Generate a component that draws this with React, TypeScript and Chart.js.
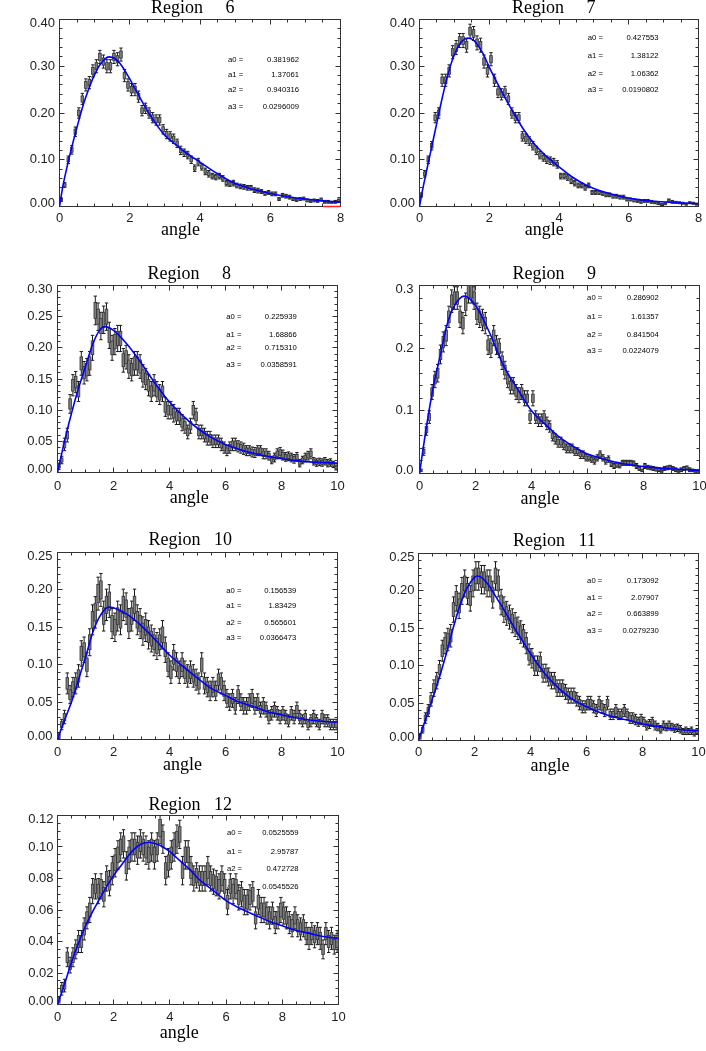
import React, { useEffect, useRef } from "react";
import { Chart, registerables } from "chart.js";

Chart.register(...registerables);

// ---------- shared categories ----------
const BIN_CENTERS = [
  0.05, 0.15, 0.25, 0.35, 0.45, 0.55, 0.65, 0.75, 0.85, 0.95,
  1.05, 1.15, 1.25, 1.35, 1.45, 1.55, 1.65, 1.75, 1.85, 1.95,
  2.05, 2.15, 2.25, 2.35, 2.45, 2.55, 2.65, 2.75, 2.85, 2.95,
  3.05, 3.15, 3.25, 3.35, 3.45, 3.55, 3.65, 3.75, 3.85, 3.95,
  4.05, 4.15, 4.25, 4.35, 4.45, 4.55, 4.65, 4.75, 4.85, 4.95,
  5.05, 5.15, 5.25, 5.35, 5.45, 5.55, 5.65, 5.75, 5.85, 5.95,
  6.05, 6.15, 6.25, 6.35, 6.45, 6.55, 6.65, 6.75, 6.85, 6.95,
  7.05, 7.15, 7.25, 7.35, 7.45, 7.55, 7.65, 7.75, 7.85, 7.95,
  8.05, 8.15, 8.25, 8.35, 8.45, 8.55, 8.65, 8.75, 8.85, 8.95,
  9.05, 9.15, 9.25, 9.35, 9.45, 9.55, 9.65, 9.75, 9.85, 9.95,
];
const PARAM_LABELS = ["a0 =", "a1 =", "a2 =", "a3 ="];
const X_TICK_STEP = 2;
const X_MINOR_N = 4;

// ---------- Region 6 ----------
const values6 = [
  0.014, 0.046, 0.100, 0.121, 0.160, 0.200, 0.230, 0.260, 0.265, 0.290,
  0.300, 0.320, 0.310, 0.300, 0.300, 0.320, 0.315, 0.325, 0.280, 0.260,
  0.250, 0.250, 0.235, 0.205, 0.210, 0.200, 0.190, 0.185, 0.185, 0.165,
  0.155, 0.150, 0.145, 0.135, 0.120, 0.115, 0.110, 0.100, 0.082, 0.095,
  0.085, 0.075, 0.070, 0.065, 0.063, 0.065, 0.060, 0.050, 0.048, 0.050,
  0.045, 0.043, 0.042, 0.040, 0.040, 0.035, 0.034, 0.032, 0.028, 0.030,
  0.027, 0.027, 0.016, 0.024, 0.022, 0.020, 0.016, 0.014, 0.016, 0.017,
  0.013, 0.012, 0.013, 0.012, 0.015, 0.010, 0.010, 0.009, 0.010, 0.013,
];
const errors6 = [
  0.003, 0.005, 0.008, 0.009, 0.010, 0.011, 0.012, 0.013, 0.013, 0.013,
  0.014, 0.014, 0.014, 0.014, 0.014, 0.014, 0.014, 0.014, 0.013, 0.013,
  0.013, 0.013, 0.012, 0.011, 0.011, 0.011, 0.011, 0.011, 0.011, 0.010,
  0.010, 0.010, 0.010, 0.009, 0.009, 0.008, 0.008, 0.008, 0.007, 0.008,
  0.007, 0.007, 0.007, 0.006, 0.006, 0.006, 0.006, 0.006, 0.005, 0.006,
  0.005, 0.005, 0.005, 0.005, 0.005, 0.005, 0.005, 0.004, 0.004, 0.004,
  0.004, 0.004, 0.003, 0.004, 0.004, 0.004, 0.003, 0.003, 0.003, 0.003,
  0.003, 0.003, 0.003, 0.003, 0.003, 0.003, 0.003, 0.002, 0.003, 0.003,
];
const fitX6 = [0, 0.1, 0.2, 0.3, 0.4, 0.5, 0.6, 0.7, 0.8, 0.9, 1.0, 1.1, 1.2, 1.3, 1.4, 1.5, 1.6, 1.7, 1.8, 1.9, 2.0, 2.2, 2.4, 2.6, 2.8, 3.0, 3.3, 3.6, 4.0, 4.5, 5.0, 5.5, 6.0, 6.5, 7.0, 7.5, 8.0];
const fitY6 = [0, 0.045, 0.08, 0.112, 0.142, 0.17, 0.198, 0.223, 0.245, 0.265, 0.282, 0.297, 0.308, 0.316, 0.32, 0.319, 0.315, 0.308, 0.298, 0.286, 0.273, 0.245, 0.218, 0.193, 0.171, 0.152, 0.133, 0.115, 0.095, 0.07, 0.049, 0.037, 0.028, 0.021, 0.016, 0.012, 0.009];
const params6 = ["0.381962", "1.37061", "0.940316", "0.0296009"];
const redX6 = [7.5, 8.0];
const redY6 = [0, 0];

// ---------- Region 7 ----------
const values7 = [
  0.025, 0.070, 0.100, 0.130, 0.190, 0.200, 0.270, 0.270, 0.290, 0.330,
  0.340, 0.355, 0.355, 0.345, 0.375, 0.370, 0.350, 0.345, 0.310, 0.290,
  0.315, 0.270, 0.245, 0.240, 0.245, 0.230, 0.200, 0.190, 0.190, 0.150,
  0.145, 0.140, 0.130, 0.120, 0.110, 0.105, 0.100, 0.098, 0.095, 0.090,
  0.065, 0.065, 0.062, 0.055, 0.050, 0.045, 0.045, 0.040, 0.045, 0.030,
  0.030, 0.030, 0.028, 0.025, 0.025, 0.022, 0.022, 0.020, 0.020, 0.015,
  0.015, 0.013, 0.012, 0.010, 0.012, 0.012, 0.010, 0.008, 0.006, 0.004,
  0.006, 0.013, 0.010, 0.009, 0.008, 0.007, 0.005, 0.008, 0.007, 0.005,
];
const errors7 = [
  0.004, 0.007, 0.008, 0.009, 0.011, 0.011, 0.013, 0.013, 0.013, 0.014,
  0.015, 0.015, 0.015, 0.015, 0.015, 0.015, 0.015, 0.015, 0.014, 0.013,
  0.014, 0.013, 0.012, 0.012, 0.012, 0.012, 0.011, 0.011, 0.011, 0.010,
  0.010, 0.009, 0.009, 0.009, 0.008, 0.008, 0.008, 0.008, 0.008, 0.008,
  0.006, 0.006, 0.006, 0.006, 0.006, 0.005, 0.005, 0.005, 0.005, 0.004,
  0.004, 0.004, 0.004, 0.004, 0.004, 0.004, 0.004, 0.004, 0.004, 0.003,
  0.003, 0.003, 0.003, 0.003, 0.003, 0.003, 0.003, 0.002, 0.002, 0.002,
  0.002, 0.003, 0.003, 0.002, 0.002, 0.002, 0.002, 0.002, 0.002, 0.002,
];
const fitX7 = [0, 0.1, 0.2, 0.3, 0.4, 0.5, 0.6, 0.7, 0.8, 0.9, 1.0, 1.1, 1.2, 1.3, 1.4, 1.5, 1.6, 1.7, 1.8, 1.9, 2.0, 2.2, 2.4, 2.7, 3.0, 3.3, 3.6, 4.0, 4.4, 4.8, 5.2, 5.8, 6.5, 7.2, 8.0];
const fitY7 = [0, 0.04, 0.075, 0.11, 0.145, 0.18, 0.215, 0.248, 0.278, 0.304, 0.325, 0.341, 0.352, 0.358, 0.36, 0.358, 0.352, 0.342, 0.33, 0.315, 0.298, 0.268, 0.24, 0.2, 0.163, 0.133, 0.11, 0.085, 0.062, 0.045, 0.033, 0.021, 0.013, 0.009, 0.006];
const params7 = ["0.427553", "1.38122", "1.06362", "0.0190802"];

// ---------- Region 8 ----------
const values8 = [
  0.010, 0.020, 0.045, 0.060, 0.110, 0.140, 0.145, 0.130, 0.175, 0.160,
  0.165, 0.175, 0.200, 0.260, 0.250, 0.235, 0.245, 0.250, 0.220, 0.200,
  0.210, 0.215, 0.215, 0.180, 0.185, 0.170, 0.165, 0.175, 0.175, 0.170,
  0.155, 0.150, 0.140, 0.130, 0.140, 0.130, 0.125, 0.130, 0.105, 0.100,
  0.100, 0.095, 0.090, 0.090, 0.080, 0.075, 0.065, 0.075, 0.100, 0.090,
  0.065, 0.065, 0.060, 0.055, 0.055, 0.050, 0.050, 0.050, 0.045, 0.040,
  0.035, 0.040, 0.045, 0.045, 0.042, 0.040, 0.038, 0.035, 0.035, 0.033,
  0.032, 0.035, 0.035, 0.030, 0.030, 0.027, 0.020, 0.024, 0.030, 0.032,
  0.028, 0.025, 0.026, 0.024, 0.022, 0.025, 0.015, 0.020, 0.024, 0.027,
  0.030, 0.018, 0.016, 0.017, 0.016, 0.018, 0.015, 0.016, 0.013, 0.008,
];
const errors8 = [
  0.005, 0.006, 0.010, 0.011, 0.015, 0.017, 0.017, 0.016, 0.019, 0.018,
  0.018, 0.019, 0.020, 0.023, 0.022, 0.022, 0.022, 0.022, 0.021, 0.020,
  0.021, 0.021, 0.021, 0.019, 0.019, 0.019, 0.018, 0.019, 0.019, 0.019,
  0.018, 0.017, 0.017, 0.016, 0.017, 0.016, 0.016, 0.016, 0.015, 0.014,
  0.014, 0.014, 0.013, 0.013, 0.013, 0.012, 0.011, 0.012, 0.014, 0.013,
  0.011, 0.011, 0.011, 0.011, 0.011, 0.010, 0.010, 0.010, 0.010, 0.009,
  0.008, 0.009, 0.010, 0.010, 0.009, 0.009, 0.009, 0.008, 0.008, 0.008,
  0.008, 0.008, 0.008, 0.008, 0.008, 0.007, 0.006, 0.007, 0.008, 0.008,
  0.008, 0.007, 0.007, 0.007, 0.007, 0.007, 0.006, 0.006, 0.007, 0.007,
  0.008, 0.006, 0.006, 0.006, 0.006, 0.006, 0.006, 0.006, 0.005, 0.004,
];
const fitX8 = [0, 0.25, 0.5, 0.75, 1.0, 1.25, 1.5, 1.7, 2.0, 2.5, 3.0, 3.5, 4.0, 4.5, 5.0, 5.5, 6.0, 6.5, 7.0, 7.5, 8.0, 8.5, 9.0, 9.5, 10];
const fitY8 = [0, 0.05, 0.095, 0.135, 0.17, 0.205, 0.228, 0.234, 0.228, 0.205, 0.175, 0.142, 0.113, 0.09, 0.071, 0.056, 0.045, 0.037, 0.031, 0.026, 0.022, 0.019, 0.017, 0.016, 0.015];
const params8 = ["0.225939", "1.68866", "0.715310", "0.0358591"];

// ---------- Region 9 ----------
const values9 = [
  0.005, 0.035, 0.070, 0.090, 0.130, 0.150, 0.160, 0.190, 0.210, 0.220,
  0.250, 0.275, 0.280, 0.280, 0.250, 0.240, 0.270, 0.290, 0.290, 0.280,
  0.255, 0.250, 0.245, 0.240, 0.205, 0.200, 0.220, 0.205, 0.200, 0.180,
  0.165, 0.150, 0.140, 0.140, 0.130, 0.125, 0.130, 0.120, 0.120, 0.090,
  0.120, 0.090, 0.085, 0.085, 0.090, 0.080, 0.075, 0.060, 0.055, 0.050,
  0.050, 0.045, 0.040, 0.040, 0.040, 0.035, 0.035, 0.030, 0.030, 0.025,
  0.025, 0.023, 0.020, 0.025, 0.030, 0.025, 0.020, 0.023, 0.015, 0.012,
  0.014, 0.013, 0.017, 0.017, 0.017, 0.017, 0.016, 0.012, 0.008, 0.005,
  0.012, 0.010, 0.009, 0.008, 0.007, 0.006, 0.004, 0.008, 0.009, 0.010,
  0.008, 0.006, 0.004, 0.006, 0.008, 0.009, 0.006, 0.005, 0.004, 0.004,
];
const errors9 = [
  0.002, 0.006, 0.009, 0.010, 0.012, 0.013, 0.014, 0.015, 0.016, 0.016,
  0.017, 0.018, 0.018, 0.018, 0.017, 0.017, 0.018, 0.018, 0.018, 0.018,
  0.017, 0.017, 0.017, 0.017, 0.015, 0.015, 0.016, 0.015, 0.015, 0.014,
  0.014, 0.013, 0.013, 0.013, 0.012, 0.012, 0.012, 0.012, 0.012, 0.010,
  0.012, 0.010, 0.010, 0.010, 0.010, 0.010, 0.009, 0.008, 0.008, 0.008,
  0.008, 0.007, 0.007, 0.007, 0.007, 0.006, 0.006, 0.006, 0.006, 0.005,
  0.005, 0.005, 0.005, 0.005, 0.006, 0.005, 0.005, 0.005, 0.004, 0.004,
  0.004, 0.004, 0.004, 0.004, 0.004, 0.004, 0.004, 0.004, 0.003, 0.002,
  0.004, 0.003, 0.003, 0.003, 0.003, 0.003, 0.002, 0.003, 0.003, 0.003,
  0.003, 0.003, 0.002, 0.003, 0.003, 0.003, 0.003, 0.002, 0.002, 0.002,
];
const fitX9 = [0, 0.25, 0.5, 0.75, 1.0, 1.25, 1.6, 2.0, 2.5, 3.0, 3.5, 4.0, 4.5, 5.0, 5.5, 6.0, 6.5, 7.0, 7.5, 8.0, 9.0, 10];
const fitY9 = [0, 0.075, 0.14, 0.19, 0.24, 0.268, 0.283, 0.268, 0.225, 0.172, 0.135, 0.1, 0.078, 0.058, 0.043, 0.031, 0.024, 0.018, 0.014, 0.011, 0.0075, 0.005];
const params9 = ["0.286902", "1.61357", "0.841504", "0.0224079"];

// ---------- Region 10 ----------
const values10 = [
  0.005, 0.020, 0.030, 0.075, 0.060, 0.070, 0.075, 0.085, 0.115, 0.120,
  0.100, 0.130, 0.160, 0.170, 0.195, 0.200, 0.165, 0.180, 0.185, 0.155,
  0.150, 0.165, 0.160, 0.180, 0.175, 0.155, 0.165, 0.180, 0.160, 0.155,
  0.145, 0.150, 0.140, 0.135, 0.130, 0.125, 0.130, 0.140, 0.120, 0.100,
  0.090, 0.110, 0.100, 0.090, 0.100, 0.090, 0.085, 0.090, 0.085, 0.080,
  0.075, 0.100, 0.075, 0.070, 0.065, 0.070, 0.065, 0.080, 0.075, 0.065,
  0.055, 0.050, 0.055, 0.045, 0.060, 0.050, 0.045, 0.045, 0.050, 0.055,
  0.045, 0.050, 0.040, 0.045, 0.040, 0.030, 0.035, 0.040, 0.035, 0.030,
  0.035, 0.030, 0.025, 0.035, 0.030, 0.040, 0.030, 0.025, 0.030, 0.020,
  0.025, 0.030, 0.025, 0.020, 0.030, 0.025, 0.025, 0.020, 0.020, 0.020,
];
const errors10 = [
  0.004, 0.007, 0.009, 0.014, 0.012, 0.013, 0.014, 0.015, 0.017, 0.017,
  0.016, 0.018, 0.020, 0.021, 0.022, 0.022, 0.020, 0.021, 0.022, 0.020,
  0.019, 0.020, 0.020, 0.021, 0.021, 0.020, 0.020, 0.021, 0.020, 0.020,
  0.019, 0.019, 0.019, 0.018, 0.018, 0.018, 0.018, 0.019, 0.017, 0.016,
  0.015, 0.017, 0.016, 0.015, 0.016, 0.015, 0.015, 0.015, 0.015, 0.014,
  0.014, 0.016, 0.014, 0.013, 0.013, 0.013, 0.013, 0.014, 0.014, 0.013,
  0.012, 0.011, 0.012, 0.011, 0.012, 0.011, 0.011, 0.011, 0.011, 0.012,
  0.011, 0.011, 0.010, 0.011, 0.010, 0.009, 0.009, 0.010, 0.009, 0.009,
  0.009, 0.009, 0.008, 0.009, 0.009, 0.010, 0.009, 0.008, 0.009, 0.007,
  0.008, 0.009, 0.008, 0.007, 0.009, 0.008, 0.008, 0.007, 0.007, 0.007,
];
const fitX10 = [0, 0.25, 0.5, 0.75, 1.0, 1.25, 1.5, 1.83, 2.0, 2.5, 3.0, 3.5, 4.0, 4.5, 5.0, 5.5, 6.0, 6.5, 7.0, 7.5, 8.0, 8.5, 9.0, 9.5, 10];
const fitY10 = [0, 0.026, 0.05, 0.08, 0.11, 0.142, 0.164, 0.177, 0.176, 0.167, 0.152, 0.133, 0.113, 0.097, 0.082, 0.068, 0.059, 0.05, 0.044, 0.037, 0.033, 0.029, 0.026, 0.024, 0.023];
const params10 = ["0.156539", "1.83429", "0.565601", "0.0366473"];

// ---------- Region 11 ----------
const values11 = [
  0.005, 0.015, 0.030, 0.040, 0.055, 0.070, 0.080, 0.095, 0.120, 0.130,
  0.135, 0.140, 0.175, 0.190, 0.180, 0.200, 0.210, 0.200, 0.190, 0.210,
  0.220, 0.220, 0.215, 0.215, 0.210, 0.210, 0.195, 0.220, 0.210, 0.185,
  0.175, 0.170, 0.165, 0.160, 0.155, 0.150, 0.145, 0.140, 0.130, 0.115,
  0.110, 0.100, 0.100, 0.105, 0.090, 0.090, 0.085, 0.080, 0.080, 0.070,
  0.070, 0.070, 0.065, 0.060, 0.060, 0.060, 0.055, 0.050, 0.045, 0.045,
  0.050, 0.050, 0.045, 0.040, 0.050, 0.045, 0.040, 0.050, 0.035, 0.035,
  0.040, 0.035, 0.035, 0.040, 0.035, 0.030, 0.030, 0.028, 0.025, 0.028,
  0.025, 0.020, 0.022, 0.025, 0.020, 0.018, 0.015, 0.020, 0.018, 0.020,
  0.018, 0.016, 0.017, 0.015, 0.012, 0.013, 0.012, 0.013, 0.010, 0.012,
];
const errors11 = [
  0.003, 0.005, 0.007, 0.008, 0.009, 0.011, 0.011, 0.012, 0.014, 0.014,
  0.015, 0.015, 0.017, 0.017, 0.017, 0.018, 0.018, 0.018, 0.017, 0.018,
  0.019, 0.019, 0.019, 0.019, 0.018, 0.018, 0.018, 0.019, 0.018, 0.017,
  0.017, 0.016, 0.016, 0.016, 0.016, 0.015, 0.015, 0.015, 0.014, 0.014,
  0.013, 0.013, 0.013, 0.013, 0.012, 0.012, 0.012, 0.011, 0.011, 0.011,
  0.011, 0.011, 0.010, 0.010, 0.010, 0.010, 0.009, 0.009, 0.008, 0.008,
  0.009, 0.009, 0.008, 0.008, 0.009, 0.008, 0.008, 0.009, 0.007, 0.007,
  0.008, 0.007, 0.007, 0.008, 0.007, 0.007, 0.007, 0.007, 0.006, 0.007,
  0.006, 0.006, 0.006, 0.006, 0.006, 0.005, 0.005, 0.006, 0.005, 0.006,
  0.005, 0.005, 0.005, 0.005, 0.004, 0.005, 0.004, 0.005, 0.004, 0.004,
];
const fitX11 = [0, 0.25, 0.5, 0.75, 1.0, 1.25, 1.5, 1.75, 2.0, 2.1, 2.25, 2.5, 2.75, 3.0, 3.25, 3.5, 3.75, 4.0, 4.5, 5.0, 5.5, 6.0, 6.5, 7.0, 7.5, 8.0, 8.5, 9.0, 9.5, 10];
const fitY11 = [0, 0.028, 0.056, 0.085, 0.117, 0.152, 0.183, 0.205, 0.218, 0.22, 0.218, 0.208, 0.193, 0.178, 0.162, 0.146, 0.131, 0.116, 0.09, 0.07, 0.055, 0.045, 0.037, 0.031, 0.027, 0.022, 0.019, 0.016, 0.014, 0.013];
const params11 = ["0.173092", "2.07907", "0.663899", "0.0279230"];

// ---------- Region 12 ----------
const values12 = [
  0.003, 0.010, 0.012, 0.030, 0.025, 0.030, 0.035, 0.040, 0.040, 0.048,
  0.055, 0.060, 0.072, 0.075, 0.072, 0.075, 0.070, 0.080, 0.077, 0.085,
  0.090, 0.095, 0.100, 0.102, 0.088, 0.095, 0.100, 0.100, 0.098, 0.102,
  0.100, 0.098, 0.095, 0.100, 0.095, 0.100, 0.112, 0.105, 0.085, 0.090,
  0.095, 0.100, 0.105, 0.108, 0.085, 0.095, 0.095, 0.085, 0.080, 0.082,
  0.080, 0.080, 0.080, 0.085, 0.080, 0.078, 0.077, 0.075, 0.080, 0.075,
  0.065, 0.075, 0.072, 0.075, 0.068, 0.070, 0.065, 0.065, 0.068, 0.070,
  0.055, 0.065, 0.060, 0.060, 0.058, 0.055, 0.058, 0.052, 0.055, 0.060,
  0.058, 0.055, 0.052, 0.050, 0.055, 0.050, 0.048, 0.050, 0.045, 0.042,
  0.045, 0.043, 0.045, 0.042, 0.035, 0.045, 0.040, 0.042, 0.038, 0.040,
];
const errors12 = [
  0.002, 0.004, 0.004, 0.006, 0.005, 0.006, 0.006, 0.007, 0.007, 0.007,
  0.007, 0.008, 0.008, 0.008, 0.008, 0.008, 0.008, 0.008, 0.008, 0.009,
  0.009, 0.009, 0.009, 0.009, 0.009, 0.009, 0.009, 0.009, 0.009, 0.009,
  0.009, 0.009, 0.009, 0.009, 0.009, 0.009, 0.010, 0.009, 0.009, 0.009,
  0.009, 0.009, 0.009, 0.009, 0.009, 0.009, 0.009, 0.009, 0.008, 0.008,
  0.008, 0.008, 0.008, 0.009, 0.008, 0.008, 0.008, 0.008, 0.008, 0.008,
  0.008, 0.008, 0.008, 0.008, 0.008, 0.008, 0.008, 0.008, 0.008, 0.008,
  0.007, 0.008, 0.008, 0.008, 0.007, 0.007, 0.007, 0.007, 0.007, 0.008,
  0.007, 0.007, 0.007, 0.007, 0.007, 0.007, 0.007, 0.007, 0.007, 0.007,
  0.007, 0.007, 0.007, 0.007, 0.006, 0.007, 0.007, 0.007, 0.006, 0.007,
];
const fitX12 = [0, 0.25, 0.5, 0.75, 1.0, 1.25, 1.5, 1.75, 2.0, 2.25, 2.5, 2.75, 3.0, 3.25, 3.5, 3.75, 4.0, 4.25, 4.5, 4.75, 5.0, 5.5, 6.0, 6.5, 7.0, 7.5, 8.0, 8.5, 9.0, 9.5, 10];
const fitY12 = [0, 0.013, 0.027, 0.039, 0.05, 0.059, 0.067, 0.075, 0.082, 0.088, 0.094, 0.099, 0.102, 0.103, 0.102, 0.1, 0.097, 0.093, 0.089, 0.085, 0.08, 0.073, 0.066, 0.061, 0.057, 0.053, 0.05, 0.047, 0.045, 0.043, 0.042];
const params12 = ["0.0525559", "2.95787", "0.472728", "0.0545526"];

// ---------- styles ----------
const SANS = '"Liberation Sans", Arial, Helvetica, sans-serif';
const SERIF = '"Liberation Serif", "Times New Roman", Times, serif';
const AXIS_COLOR = "#333333";
const LABEL_COLOR = "#222222";
const FIT_COLOR = "#0000ff";
const MAJOR_LEN = 5;
const MINOR_LEN = 3;
const BOX_FRAC = 0.55;

type Panel = {
  title: string;
  values: number[];
  errors: number[];
  fitX: number[];
  fitY: number[];
  params: string[];
  redX?: number[];
  redY?: number[];
  xMax: number;
  yMax: number;
  yStep: number;
  yMinorN: number;
  yDec: number;
  box: { left: number; top: number; w: number; h: number };
  area: { l: number; t: number; r: number; b: number };
  titleDx: number;
  titleDy: number;
  angleDx: number;
  angleDy: number;
  xLabDy: number;
  yLabGap: number;
  parLabX: number;
  parValX: number;
  parRows: number[];
};

const PANELS: Panel[] = [
  {
    title: "Region     6", values: values6, errors: errors6, fitX: fitX6, fitY: fitY6, params: params6,
    redX: redX6, redY: redY6, xMax: 8, yMax: 0.4, yStep: 0.1, yMinorN: 5, yDec: 2,
    box: { left: 0, top: 0, w: 353, h: 255 }, area: { l: 59.5, t: 19.5, r: 340.5, b: 206.5 },
    titleDx: -49, titleDy: -7, angleDx: -19.5, angleDy: 28, xLabDy: 11.8, yLabGap: 4.5,
    parLabX: 168.5, parValX: 239.5, parRows: [40.8, 55.5, 70.5, 87.2],
  },
  {
    title: "Region     7", values: values7, errors: errors7, fitX: fitX7, fitY: fitY7, params: params7,
    xMax: 8, yMax: 0.4, yStep: 0.1, yMinorN: 5, yDec: 2,
    box: { left: 353, top: 0, w: 353, h: 255 }, area: { l: 66.5, t: 19.5, r: 345.5, b: 206.5 },
    titleDx: -47, titleDy: -7, angleDx: -14.8, angleDy: 28, xLabDy: 11.8, yLabGap: 4.5,
    parLabX: 168.3, parValX: 239, parRows: [18.2, 36, 54.5, 70.5],
  },
  {
    title: "Region     8", values: values8, errors: errors8, fitX: fitX8, fitY: fitY8, params: params8,
    xMax: 10, yMax: 0.3, yStep: 0.05, yMinorN: 5, yDec: 2,
    box: { left: 0, top: 255, w: 353, h: 262 }, area: { l: 57.5, t: 30.5, r: 337.5, b: 217.5 },
    titleDx: -50, titleDy: -7, angleDx: -8.2, angleDy: 30, xLabDy: 13.5, yLabGap: 5,
    parLabX: 168.7, parValX: 239.4, parRows: [31, 49, 62.3, 79],
  },
  {
    title: "Region     9", values: values9, errors: errors9, fitX: fitX9, fitY: fitY9, params: params9,
    xMax: 10, yMax: 0.3, yStep: 0.1, yMinorN: 5, yDec: 1,
    box: { left: 353, top: 255, w: 353, h: 262 }, area: { l: 66.5, t: 30.5, r: 346.5, b: 218.5 },
    titleDx: -47, titleDy: -7, angleDx: -19.5, angleDy: 30.5, xLabDy: 13, yLabGap: 6,
    parLabX: 167.6, parValX: 239.3, parRows: [12.3, 31, 49, 65],
  },
  {
    title: "Region   10", values: values10, errors: errors10, fitX: fitX10, fitY: fitY10, params: params10,
    xMax: 10, yMax: 0.25, yStep: 0.05, yMinorN: 5, yDec: 2,
    box: { left: 0, top: 517, w: 353, h: 268 }, area: { l: 57.5, t: 35.5, r: 337.5, b: 222.5 },
    titleDx: -49, titleDy: -7.5, angleDx: -15, angleDy: 30.5, xLabDy: 13, yLabGap: 5,
    parLabX: 168.7, parValX: 238.7, parRows: [38.3, 53.3, 70.6, 85.6],
  },
  {
    title: "Region   11", values: values11, errors: errors11, fitX: fitX11, fitY: fitY11, params: params11,
    xMax: 10, yMax: 0.25, yStep: 0.05, yMinorN: 5, yDec: 2,
    box: { left: 353, top: 517, w: 353, h: 268 }, area: { l: 65.5, t: 36.5, r: 345.5, b: 223.5 },
    titleDx: -45.5, titleDy: -7.5, angleDx: -8.5, angleDy: 30.5, xLabDy: 11.8, yLabGap: 4,
    parLabX: 168.6, parValX: 240.3, parRows: [27, 44, 60, 77.4],
  },
  {
    title: "Region   12", values: values12, errors: errors12, fitX: fitX12, fitY: fitY12, params: params12,
    xMax: 10, yMax: 0.12, yStep: 0.02, yMinorN: 4, yDec: 2,
    box: { left: 0, top: 785, w: 353, h: 266 }, area: { l: 57.5, t: 30.5, r: 338.5, b: 219.5 },
    titleDx: -49.5, titleDy: -6, angleDx: -18.7, angleDy: 33, xLabDy: 12.7, yLabGap: 4,
    parLabX: 169.4, parValX: 241, parRows: [17.6, 36, 53.6, 71],
  },
];

function minorValues(major: number[], n: number): number[] {
  const out: number[] = [];
  for (let i = 0; i < major.length - 1; i++) {
    for (let k = 1; k < n; k++) out.push(major[i] + ((major[i + 1] - major[i]) * k) / n);
  }
  return out;
}

function crisp(v: number) {
  return Math.floor(v) + 0.5;
}

function makeDecor(p: Panel) {
  return {
    id: "panelDecor",
    beforeDatasetsDraw(chart: any) {
      const ctx: CanvasRenderingContext2D = chart.ctx;
      const a = chart.chartArea;
      const xs = chart.scales.x;
      const ys = chart.scales.y;
      ctx.save();

      // frame with inward ticks on all four sides
      ctx.strokeStyle = AXIS_COLOR;
      ctx.lineWidth = 1;
      ctx.strokeRect(a.left, a.top, a.right - a.left, a.bottom - a.top);
      ctx.beginPath();
      const xMajor = xs.ticks.map((t: any) => t.value);
      const yMajor = ys.ticks.map((t: any) => t.value);
      const xMinor = minorValues(xMajor, X_MINOR_N);
      const yMinor = minorValues(yMajor, p.yMinorN);
      const xT = (vals: number[], len: number) => {
        vals.forEach((v) => {
          const px = crisp(xs.getPixelForValue(v));
          ctx.moveTo(px, a.bottom);
          ctx.lineTo(px, a.bottom - len);
          ctx.moveTo(px, a.top);
          ctx.lineTo(px, a.top + len);
        });
      };
      const yT = (vals: number[], len: number) => {
        vals.forEach((v) => {
          const py = crisp(ys.getPixelForValue(v));
          ctx.moveTo(a.left, py);
          ctx.lineTo(a.left + len, py);
          ctx.moveTo(a.right, py);
          ctx.lineTo(a.right - len, py);
        });
      };
      xT(xMajor, MAJOR_LEN);
      xT(xMinor, MINOR_LEN);
      yT(yMajor, MAJOR_LEN);
      yT(yMinor, MINOR_LEN);
      ctx.stroke();

      // fit parameters text
      ctx.fillStyle = "#000";
      ctx.font = `7.7px ${SANS}`;
      ctx.textBaseline = "middle";
      for (let i = 0; i < 4; i++) {
        const y = a.top + p.parRows[i];
        ctx.textAlign = "left";
        ctx.fillText(PARAM_LABELS[i], a.left + p.parLabX, y);
        ctx.textAlign = "right";
        ctx.fillText(p.params[i], a.left + p.parValX, y);
      }

      // histogram bins with error bars
      ctx.beginPath();
      ctx.rect(a.left, a.top, a.right - a.left, a.bottom - a.top);
      ctx.clip();
      for (let i = 0; i < p.values.length; i++) {
        const cx = xs.getPixelForValue(BIN_CENTERS[i]);
        const v = p.values[i];
        const e = p.errors[i];
        const yTop = ys.getPixelForValue(v + e);
        const yBot = ys.getPixelForValue(v - e);
        ctx.strokeStyle = "#1a1a1a";
        ctx.lineWidth = 1;
        ctx.beginPath();
        ctx.moveTo(cx, yTop);
        ctx.lineTo(cx, yBot);
        ctx.moveTo(cx - 1.7, yTop);
        ctx.lineTo(cx + 1.7, yTop);
        ctx.moveTo(cx - 1.7, yBot);
        ctx.lineTo(cx + 1.7, yBot);
        ctx.stroke();
        const bTop = ys.getPixelForValue(v + BOX_FRAC * e);
        const bBot = ys.getPixelForValue(v - BOX_FRAC * e);
        ctx.fillStyle = "#7e7e7e";
        ctx.fillRect(cx - 1.3, bTop, 2.6, bBot - bTop);
        ctx.strokeStyle = "#333333";
        ctx.lineWidth = 0.8;
        ctx.strokeRect(cx - 1.3, bTop, 2.6, bBot - bTop);
      }
      ctx.restore();
    },
    afterDraw(chart: any) {
      const ctx: CanvasRenderingContext2D = chart.ctx;
      const a = chart.chartArea;
      const xs = chart.scales.x;
      const ys = chart.scales.y;
      ctx.save();
      ctx.fillStyle = LABEL_COLOR;
      ctx.font = `13px ${SANS}`;
      // y tick labels
      ctx.textAlign = "right";
      ctx.textBaseline = "middle";
      const n = ys.ticks.length;
      ys.ticks.forEach((t: any, i: number) => {
        let y = ys.getPixelForValue(t.value);
        if (i === 0) y -= 3.5;
        if (i === n - 1) y += 4;
        const label = Number(t.value).toFixed(p.yDec);
        ctx.fillText(label, a.left - p.yLabGap, y);
      });
      // x tick labels
      ctx.textAlign = "center";
      xs.ticks.forEach((t: any) => {
        const x = xs.getPixelForValue(t.value);
        ctx.fillText(String(Math.round(t.value)), x, a.bottom + p.xLabDy);
      });
      // titles
      const cx = (a.left + a.right) / 2;
      ctx.fillStyle = "#000";
      ctx.font = `18px ${SERIF}`;
      ctx.textBaseline = "alphabetic";
      ctx.textAlign = "left";
      ctx.fillText(p.title, cx + p.titleDx, a.top + p.titleDy);
      ctx.textAlign = "center";
      ctx.fillText("angle", cx + p.angleDx, a.bottom + p.angleDy);
      ctx.restore();
    },
  };
}

function PanelChart({ p }: { p: Panel }) {
  const ref = useRef<HTMLCanvasElement | null>(null);
  useEffect(() => {
    if (!ref.current) return;
    const datasets: any[] = [
      {
        label: "histogram",
        data: p.values.map((v, i) => ({ x: BIN_CENTERS[i], y: v })),
        showLine: false,
        pointRadius: 0,
        pointHoverRadius: 0,
        borderWidth: 0,
      },
      {
        label: "fit",
        data: p.fitX.map((x, i) => ({ x, y: p.fitY[i] })),
        borderColor: FIT_COLOR,
        borderWidth: 1.6,
        pointRadius: 0,
        fill: false,
        cubicInterpolationMode: "monotone",
      },
    ];
    if (p.redX && p.redY) {
      datasets.push({
        label: "marker",
        data: p.redX.map((x, i) => ({ x, y: p.redY![i] })),
        borderColor: "#ff2020",
        borderWidth: 1.5,
        pointRadius: 0,
        fill: false,
        clip: false,
      });
    }
    const chart = new Chart(ref.current, {
      type: "line",
      data: { datasets },
      options: {
        responsive: false,
        maintainAspectRatio: false,
        animation: false,
        devicePixelRatio: 1,
        events: [],
        layout: {
          padding: { left: 0, top: p.area.t, right: p.box.w - p.area.r, bottom: 0 },
        },
        plugins: {
          legend: { display: false },
          tooltip: { enabled: false },
          title: { display: false },
        },
        scales: {
          x: {
            type: "linear",
            min: 0,
            max: p.xMax,
            ticks: { stepSize: X_TICK_STEP, display: false },
            grid: { display: false, drawTicks: false },
            border: { display: false },
            afterFit: (s: any) => {
              s.height = p.box.h - p.area.b;
            },
          },
          y: {
            type: "linear",
            min: 0,
            max: p.yMax,
            ticks: { stepSize: p.yStep, display: false },
            grid: { display: false, drawTicks: false },
            border: { display: false },
            afterFit: (s: any) => {
              s.width = p.area.l;
            },
          },
        },
      } as any,
      plugins: [makeDecor(p)],
    });
    return () => chart.destroy();
  }, [p]);
  return (
    <canvas
      ref={ref}
      width={p.box.w}
      height={p.box.h}
      style={{
        position: "absolute",
        left: p.box.left,
        top: p.box.top,
        width: p.box.w,
        height: p.box.h,
      }}
    />
  );
}

export default function App() {
  return (
    <div
      style={{
        position: "absolute",
        left: 0,
        top: 0,
        width: 706,
        height: 1051,
        overflow: "hidden",
        background: "#ffffff",
      }}
    >
      {PANELS.map((p) => (
        <PanelChart key={p.title} p={p} />
      ))}
    </div>
  );
}
